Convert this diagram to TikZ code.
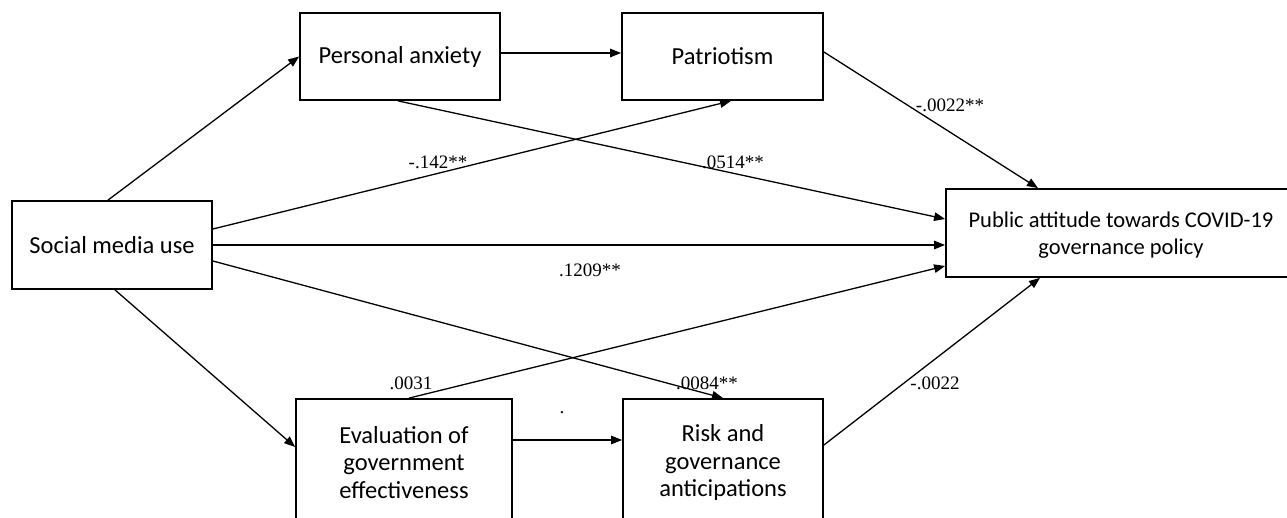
\documentclass[tikz,border=0pt]{standalone}
\usepackage{fontspec}
\usetikzlibrary{arrows.meta,calc}
\newfontfamily\boxfont{Carlito}
\newfontfamily\numfont{Liberation Serif}
\begin{document}
\begin{tikzpicture}[x=1pt,y=-1pt,
  box/.style={draw,line width=1.8pt,rectangle,inner sep=0pt,align=center,
    font=\boxfont\fontsize{24.5}{27.5}\selectfont},
  conn/.style={line width=1.3pt,-{Triangle[length=11pt,width=8.5pt]}},
  lab/.style={inner sep=0pt,font=\numfont\fontsize{19}{21}\selectfont}]
\useasboundingbox (0,0) rectangle (1287,518);
\node[box,minimum width=200pt,minimum height=88pt] (sm) at (112,245) {Social media use};
\node[box,minimum width=200pt,minimum height=87pt] (pa) at (400,56.5) {Personal anxiety};
\node[box,minimum width=201pt,minimum height=87pt] (pat) at (722.5,56.5) {Patriotism};
\node[box,minimum width=350pt,minimum height=88pt,
  font=\boxfont\fontsize{22.5}{27}\selectfont] (pub) at (1121,233)
  {\raisebox{-3pt}[\height][\depth]{\begin{tabular}{@{}c@{}}Public attitude towards COVID-19\\governance policy\end{tabular}}};
\node[box,minimum width=216pt,minimum height=127pt] (ev) at (404,462.5) {Evaluation of\\government\\effectiveness};
\node[box,minimum width=200pt,minimum height=127pt] (risk) at (723,462.5) {Risk and\\governance\\anticipations};

\draw[conn] ([xshift=-4pt]sm.north) -- (pa.west);
\draw[conn] ([yshift=3.5pt]pa.east) -- ([yshift=3.5pt]pat.west);
\draw[conn] ([yshift=16pt]sm.east) -- ([xshift=8.5pt]pat.south);
\draw[conn] ([xshift=-2pt]pa.south) -- ([yshift=14pt]pub.west);
\draw[conn] (sm.east) -- (sm.east -| pub.west);
\draw[conn] ([yshift=-16pt]sm.east) -- (risk.north);
\draw[conn] ([xshift=3pt]sm.south) -- ([yshift=15.5pt]ev.west);
\draw[conn] ([xshift=5pt]ev.north) -- ([yshift=-33pt]pub.west);
\draw[conn] ([yshift=22.5pt]ev.east) -- ([yshift=22.5pt]risk.west);
\draw[conn] ([yshift=17.5pt]risk.east) -- ([xshift=-81pt]pub.south);
\draw[conn] ([yshift=4.5pt]pat.east) -- ([xshift=-83pt]pub.north);

\node[lab] (l1) at (438,162) {-.142**};
\node[lab] (l2) at (733,162) {.0514**};
\node[lab] (l3) at (950,105) {-.0022**};
\node[lab] (l4) at (590,270) {.1209**};
\node[lab] (l5) at (411,383) {.0031};
\node[lab] (l6) at (707,383) {.0084**};
\node[lab] (l7) at (562,413) {.};
\node[lab] (l8) at (935,383) {-.0022};
\end{tikzpicture}
\end{document}
